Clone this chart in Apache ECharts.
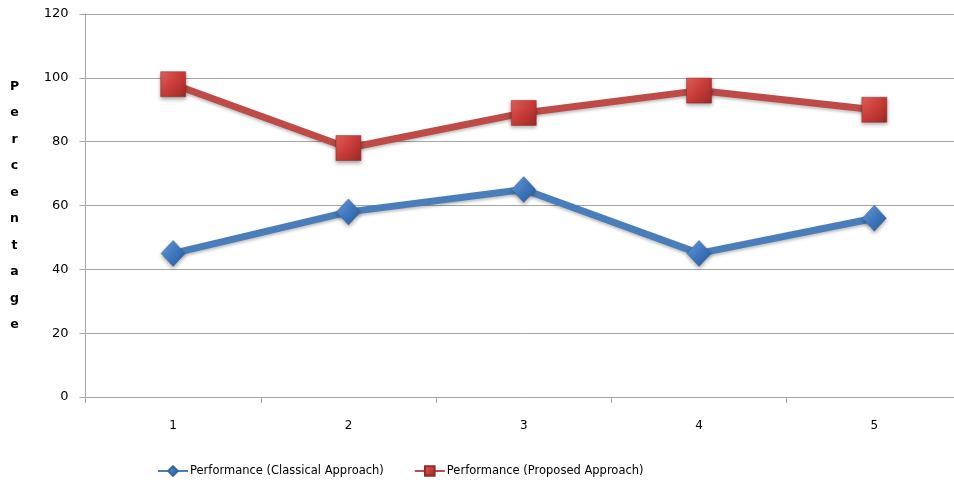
<!DOCTYPE html>
<html>
<head>
<meta charset="utf-8">
<style>
  html, body { margin: 0; padding: 0; background: #ffffff; overflow: hidden; }
  /* the plot area runs slightly past the right edge of the page */
  #chart { width: 964px; height: 485px; }
</style>
<script src="https://cdn.jsdelivr.net/npm/echarts@6/dist/echarts.min.js"></script>
</head>
<body>
<div id="chart"></div>
<script>
// Experiment runs on the x axis
const categories = ['1', '2', '3', '4', '5'];
// Performance in percent for each approach
const classicalValues = [45, 58, 65, 45, 56];
const proposedValues = [98, 78, 89, 96, 90];
const seriesNames = ['Performance (Classical Approach)', 'Performance (Proposed Approach)'];
const axisTitle = 'Percentage';

const blue = '#4a7ebb';
const red = '#be4b48';
const labelFont = 'Tahoma, "DejaVu Sans", Verdana, sans-serif';

function markerGradient(light, mid, dark) {
  return new echarts.graphic.LinearGradient(0, 0, 1, 1, [
    { offset: 0, color: light },
    { offset: 0.5, color: mid },
    { offset: 1, color: dark }
  ]);
}

const chart = echarts.init(document.getElementById('chart'), null, { renderer: 'canvas' });

chart.setOption({
  animation: false,
  backgroundColor: '#ffffff',
  grid: { left: 85.5, top: 14, right: 2, bottom: 88, containLabel: false },
  legend: {
    bottom: 8,
    left: 157,
    padding: 0,
    itemWidth: 30,
    itemHeight: 12,
    itemGap: 30,
    textStyle: { fontFamily: labelFont, fontSize: 11.5, color: '#000', padding: [0, 0, 0, -3] },
    data: seriesNames
  },
  xAxis: {
    type: 'category',
    data: categories,
    boundaryGap: true,
    axisLine: { lineStyle: { color: '#a6a6a6', width: 1 } },
    axisTick: { show: true, length: 6, lineStyle: { color: '#a6a6a6' } },
    axisLabel: { margin: 23, fontFamily: labelFont, fontSize: 12, color: '#000' },
    splitLine: { show: false }
  },
  yAxis: {
    type: 'value',
    min: 0,
    max: 120,
    interval: 20,
    name: axisTitle.split('').join('\n'),
    nameLocation: 'middle',
    nameRotate: 0,
    nameGap: 71,
    nameTextStyle: {
      fontFamily: labelFont, fontSize: 12.5, fontWeight: 'bold', color: '#000',
      lineHeight: 26.5, align: 'center', padding: [20, 0, 0, 0]
    },
    axisLine: { show: true, lineStyle: { color: '#a6a6a6', width: 1 } },
    axisTick: { show: true, length: 6, lineStyle: { color: '#a6a6a6' } },
    axisLabel: { margin: 17, fontFamily: labelFont, fontSize: 13, color: '#000' },
    splitLine: { show: true, lineStyle: { color: '#a6a6a6', width: 1 } }
  },
  series: [
    {
      name: seriesNames[0],
      type: 'line',
      data: classicalValues,
      symbol: 'diamond',
      symbolSize: [24, 26],
      lineStyle: { color: blue, width: 7, shadowColor: 'rgba(0,0,0,0.25)', shadowBlur: 3, shadowOffsetY: 2 },
      itemStyle: {
        color: markerGradient('#6fa0dc', '#3f78c0', '#2c5a94'),
        borderColor: '#35659f',
        borderWidth: 0.5,
        shadowColor: 'rgba(0,0,0,0.35)', shadowBlur: 4, shadowOffsetY: 2
      },
      z: 3
    },
    {
      name: seriesNames[1],
      type: 'line',
      data: proposedValues,
      symbol: 'rect',
      symbolSize: 25,
      lineStyle: { color: red, width: 7, shadowColor: 'rgba(0,0,0,0.25)', shadowBlur: 3, shadowOffsetY: 2 },
      itemStyle: {
        color: markerGradient('#e4625f', '#c83b37', '#9b2a27'),
        borderColor: '#8f2c2a',
        borderWidth: 0.5,
        shadowColor: 'rgba(0,0,0,0.35)', shadowBlur: 4, shadowOffsetY: 2
      },
      z: 3
    }
  ]
});
</script>
</body>
</html>
